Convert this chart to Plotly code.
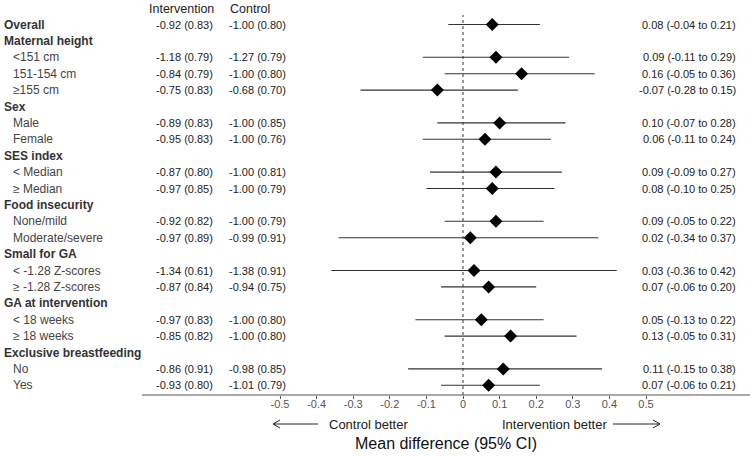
import plotly.graph_objects as go

labels = ["Overall", "Maternal height", "<151 cm", "151-154 cm", "≥155 cm",
          "Sex", "Male", "Female", "SES index", "< Median", "≥ Median",
          "Food insecurity", "None/mild", "Moderate/severe",
          "Small for GA", "< -1.28 Z-scores", "≥ -1.28 Z-scores",
          "GA at intervention", "< 18 weeks", "≥ 18 weeks",
          "Exclusive breastfeeding", "No", "Yes"]
is_header = [True, True, False, False, False,
             True, False, False, True, False, False,
             True, False, False,
             True, False, False,
             True, False, False,
             True, False, False]
intervention = ["-0.92 (0.83)", "", "-1.18 (0.79)", "-0.84 (0.79)", "-0.75 (0.83)",
                "", "-0.89 (0.83)", "-0.95 (0.83)", "", "-0.87 (0.80)", "-0.97 (0.85)",
                "", "-0.92 (0.82)", "-0.97 (0.89)",
                "", "-1.34 (0.61)", "-0.87 (0.84)",
                "", "-0.97 (0.83)", "-0.85 (0.82)",
                "", "-0.86 (0.91)", "-0.93 (0.80)"]
control = ["-1.00 (0.80)", "", "-1.27 (0.79)", "-1.00 (0.80)", "-0.68 (0.70)",
           "", "-1.00 (0.85)", "-1.00 (0.76)", "", "-1.00 (0.81)", "-1.00 (0.79)",
           "", "-1.00 (0.79)", "-0.99 (0.91)",
           "", "-1.38 (0.91)", "-0.94 (0.75)",
           "", "-1.00 (0.80)", "-1.00 (0.80)",
           "", "-0.98 (0.85)", "-1.01 (0.79)"]
md = [0.08, None, 0.09, 0.16, -0.07,
      None, 0.10, 0.06, None, 0.09, 0.08,
      None, 0.09, 0.02,
      None, 0.03, 0.07,
      None, 0.05, 0.13,
      None, 0.11, 0.07]
lo = [-0.04, None, -0.11, -0.05, -0.28,
      None, -0.07, -0.11, None, -0.09, -0.10,
      None, -0.05, -0.34,
      None, -0.36, -0.06,
      None, -0.13, -0.05,
      None, -0.15, -0.06]
hi = [0.21, None, 0.29, 0.36, 0.15,
      None, 0.28, 0.24, None, 0.27, 0.25,
      None, 0.22, 0.37,
      None, 0.42, 0.20,
      None, 0.22, 0.31,
      None, 0.38, 0.21]
tick_vals = [-0.5, -0.4, -0.3, -0.2, -0.1, 0, 0.1, 0.2, 0.3, 0.4, 0.5]
tick_text = ["-0.5", "-0.4", "-0.3", "-0.2", "-0.1", "0", "0.1", "0.2", "0.3", "0.4", "0.5"]

W, H = 750, 457
AXIS_PX = 395
ZERO_PX, SCALE = 463, 366.0
ROW0_PX, ROW_H = 24.5, 16.4
FONT = "Arial, Liberation Sans, sans-serif"

def px(x):
    return x / W

def py(y):
    return (AXIS_PX - y) / AXIS_PX

rows = list(range(1, len(labels) + 1))
pr = [(r, m, l, h) for r, m, l, h in zip(rows, md, lo, hi) if m is not None]
ys = [p[0] for p in pr]
xs = [p[1] for p in pr]
ep = [round(p[3] - p[1], 4) for p in pr]
em = [round(p[1] - p[2], 4) for p in pr]

fig = go.Figure()
fig.add_trace(go.Scatter(
    x=xs, y=ys, mode="markers",
    marker=dict(symbol="diamond", size=10, color="black", line=dict(width=0)),
    error_x=dict(type="data", array=ep, arrayminus=em, symmetric=False,
                 width=0, thickness=1.1, color="#333333"),
    showlegend=False, hoverinfo="skip"))

ann = []
# column headers
ann.append(dict(x=px(147), y=0.05, xref="paper", yref="y", text="Intervention",
                xanchor="left", yanchor="middle", showarrow=False, font=dict(size=12.5, color="#222")))
ann.append(dict(x=px(228), y=0.05, xref="paper", yref="y", text="Control",
                xanchor="left", yanchor="middle", showarrow=False, font=dict(size=12.5, color="#222")))
for r, lab, hd, iv, cv, m, l, h in zip(rows, labels, is_header, intervention, control, md, lo, hi):
    if hd:
        ann.append(dict(x=px(2), y=r, xref="paper", yref="y", text="<b>%s</b>" % lab,
                        xanchor="left", yanchor="middle", showarrow=False,
                        font=dict(size=12, color="#333")))
    else:
        ann.append(dict(x=px(11), y=r, xref="paper", yref="y", text=lab,
                        xanchor="left", yanchor="middle", showarrow=False,
                        font=dict(size=12, color="#444")))
    if iv:
        ann.append(dict(x=px(215), y=r, xref="paper", yref="y", text=iv,
                        xanchor="right", yanchor="middle", showarrow=False,
                        font=dict(size=11, color="#222")))
    if cv:
        ann.append(dict(x=px(288), y=r, xref="paper", yref="y", text=cv,
                        xanchor="right", yanchor="middle", showarrow=False,
                        font=dict(size=11, color="#222")))
    if m is not None:
        ann.append(dict(x=px(738), y=r, xref="paper", yref="y",
                        text="%.2f (%.2f to %.2f)" % (m, l, h),
                        xanchor="right", yanchor="middle", showarrow=False,
                        font=dict(size=11, color="#222")))

ann.append(dict(x=px(327), y=py(424), xref="paper", yref="paper", text="Control better",
                xanchor="left", yanchor="middle", showarrow=False, font=dict(size=13, color="#222")))
ann.append(dict(x=px(500), y=py(424), xref="paper", yref="paper", text="Intervention better",
                xanchor="left", yanchor="middle", showarrow=False, font=dict(size=13, color="#222")))
ann.append(dict(x=px(446), y=py(443), xref="paper", yref="paper", text="Mean difference (95% CI)",
                xanchor="center", yanchor="middle", showarrow=False, font=dict(size=16, color="#111")))

shapes = []
# reference line at zero
shapes.append(dict(type="line", xref="x", yref="paper", x0=0, x1=0, y0=0, y1=py(15),
                   line=dict(color="#333", width=1, dash="3px,3px")))
# axis line
shapes.append(dict(type="line", xref="paper", yref="paper", x0=px(142), x1=1, y0=0, y1=0,
                   line=dict(color="#555", width=1.2)))
# arrows
ay = py(424)
shapes.append(dict(type="path", xref="paper", yref="paper",
                   path="M %f %f L %f %f M %f %f L %f %f L %f %f" % (
                       px(273), ay, px(318), ay,
                       px(280), py(420), px(273), ay, px(280), py(428)),
                   line=dict(color="#222", width=1)))
shapes.append(dict(type="path", xref="paper", yref="paper",
                   path="M %f %f L %f %f M %f %f L %f %f L %f %f" % (
                       px(613), ay, px(660), ay,
                       px(653), py(420), px(660), ay, px(653), py(428)),
                   line=dict(color="#222", width=1)))

fig.update_layout(
    width=W, height=H, autosize=False,
    margin=dict(l=0, r=0, t=0, b=H - AXIS_PX, pad=0),
    paper_bgcolor="white", plot_bgcolor="white",
    font=dict(family=FONT, color="#222"),
    annotations=ann, shapes=shapes,
    xaxis=dict(range=[(0 - ZERO_PX) / SCALE, (W - ZERO_PX) / SCALE],
               tickvals=tick_vals, ticktext=tick_text,
               ticks="outside", ticklen=3, tickcolor="#555", tickwidth=1,
               ticklabelstandoff=-4,
               tickfont=dict(size=11, color="#555"),
               showgrid=False, zeroline=False, showline=False),
    yaxis=dict(range=[1 + (AXIS_PX - ROW0_PX) / ROW_H, 1 - ROW0_PX / ROW_H],
               showticklabels=False, showgrid=False, zeroline=False, showline=False),
)

fig.write_html("out.html")
